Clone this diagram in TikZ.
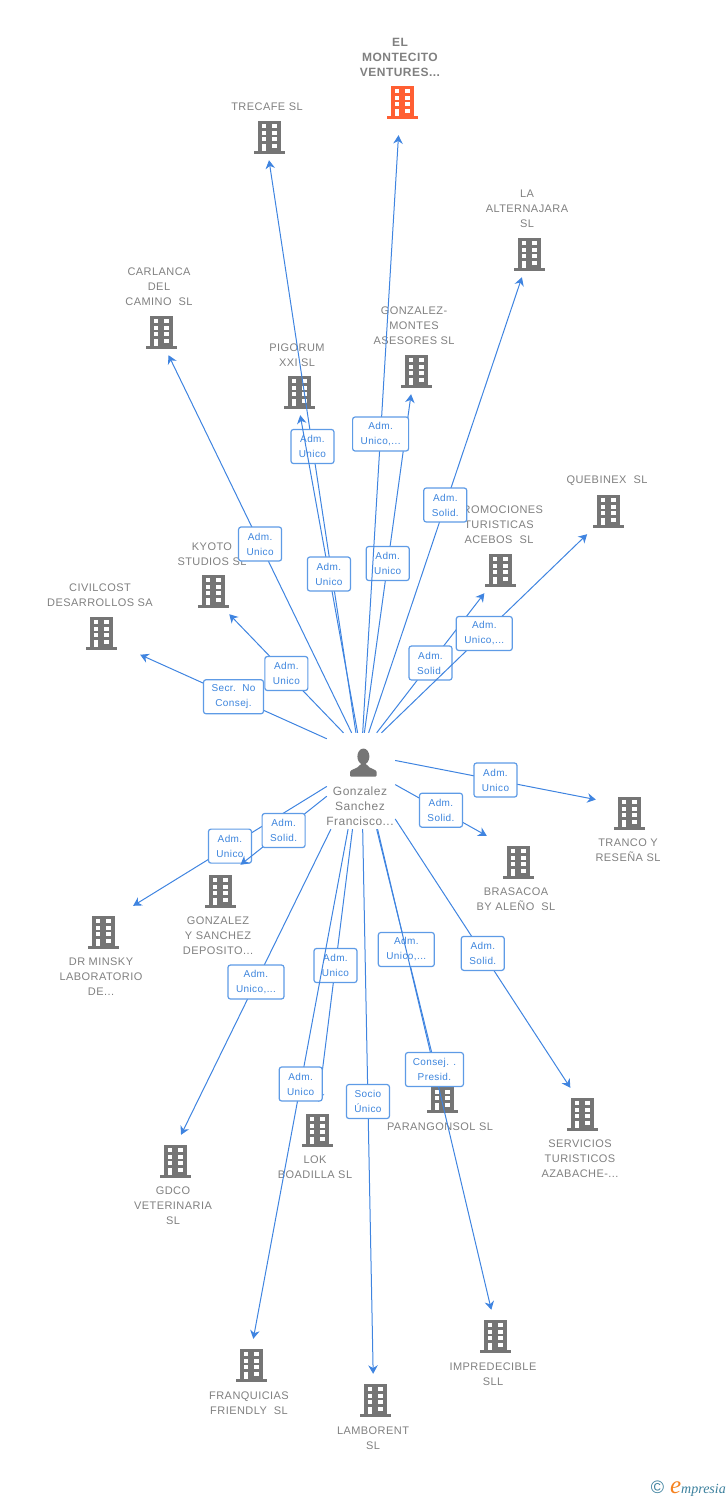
\documentclass[tikz,border=0pt]{standalone}
\usepackage{fontspec}
\setmainfont[LetterSpace=4]{Liberation Sans}
\newfontfamily\logofont{Liberation Serif}
\newfontfamily\copyfont{Liberation Sans}
\usetikzlibrary{arrows.meta}
\definecolor{bldggray}{HTML}{757575}
\definecolor{bldgorange}{HTML}{FF5F33}
\definecolor{namegray}{HTML}{808080}
\definecolor{linkblue}{HTML}{3F84E0}
\definecolor{tagblue}{HTML}{5E9BE6}
\definecolor{tagtext}{HTML}{3D85DD}
\definecolor{logoteal}{HTML}{3A7F9C}
\definecolor{logoorange}{HTML}{F58220}
\newcommand{\drawbldg}[1]{%
  \begin{scope}[shift={(path picture bounding box.center)}]
    \fill[#1] (-11.5,-16.5) rectangle (11.5,14);
    \fill[#1] (-15.5,14) rectangle (15.5,16.8);
    \foreach \wy in {-13,-6.5,0} {
      \fill[white] (-7.5,\wy) rectangle (-3.1,\wy+4.1);
      \fill[white] (3.1,\wy) rectangle (7.5,\wy+4.1);
    }
    \fill[white] (-7.5,6.7) rectangle (-3.1,14);
    \fill[white] (3.1,6.7) rectangle (7.5,11.4);
  \end{scope}}
\newcommand{\drawperson}{%
  \begin{scope}[shift={(path picture bounding box.center)}]
    \fill[bldggray] (2.4,-24.5) ellipse (6 and 8);
    \fill[bldggray, rounded corners=1pt] (-11,-4.5) -- (-11,-8) .. controls (-11,-12) and (-3,-12) .. (-0.5,-17)
      -- (5.5,-17) .. controls (8,-12) and (15.7,-12) .. (15.7,-8) -- (15.7,-4.5) -- cycle;
  \end{scope}}

\begin{document}
\begin{tikzpicture}[x=1pt, y=-1pt]
        % styles
        \tikzstyle{building}[bldggray] = [rectangle, inner sep=0pt, minimum width=66pt, minimum height=52pt, path picture={\drawbldg{#1}}]
        \tikzstyle{upbldg} = [building, minimum height=46pt]
        \tikzstyle{person} = [rectangle, inner sep=0pt, minimum width=68pt, minimum height=96pt, path picture={\drawperson}]
        \tikzstyle{firm} = [inner sep=0pt, yshift=-0.8pt, align=center, text=namegray, font=\fontsize{11}{15}\selectfont]
        \tikzstyle{tag} = [rectangle, rounded corners=2.5pt, inner sep=0pt, minimum width=43pt, minimum height=34pt, align=center, draw=tagblue, line width=1.2pt, fill=white, text=tagtext, font=\fontsize{10}{15}\selectfont]
        \tikzstyle{arrow} = [draw=linkblue, line width=1pt, -{Stealth[length=8.5pt, width=9.5pt]}]

        \useasboundingbox (0,0) rectangle (728,1500);

        % companies above the person
        \node (montecito) [building=bldgorange, minimum height=66pt] at (402,102) {};
        \node (montecitotxt) [firm, font=\fontsize{12}{15}\selectfont\bfseries] at (400,56.5) {EL\\MONTECITO\\VENTURES...};
        \node (trecafe) [upbldg] at (269,137) {};
        \node (trecafetxt) [firm] at (267,106) {TRECAFE SL};
        \node (alternajara) [upbldg] at (529,254) {};
        \node (alternajaratxt) [firm] at (527,208) {LA\\ALTERNAJARA\\SL};
        \node (carlanca) [upbldg] at (161,332) {};
        \node (carlancatxt) [firm] at (159,286) {CARLANCA\\DEL\\CAMINO~~SL};
        \node (gonzmon) [upbldg] at (416,371) {};
        \node (gonzmontxt) [firm] at (414,325) {GONZALEZ-\\MONTES\\ASESORES SL};
        \node (pigorum) [upbldg] at (299,392) {};
        \node (pigorumtxt) [firm] at (297,354) {PIGORUM\\XXI SL};
        \node (quebinex) [upbldg] at (608,511) {};
        \node (quebinextxt) [firm] at (607,480) {QUEBINEX~~SL};
        \node (acebos) [upbldg] at (500,570) {};
        \node (acebostxt) [firm] at (499,524) {PROMOCIONES\\TURISTICAS\\ACEBOS~~SL};
        \node (kyoto) [upbldg] at (213,591) {};
        \node (kyototxt) [firm] at (212,553) {KYOTO\\STUDIOS SL};
        \node (civilcost) [upbldg, minimum width=78pt] at (101,633) {};
        \node (civilcosttxt) [firm] at (100,594) {CIVILCOST\\DESARROLLOS SA};

        % the person
        \node (hub) [person] at (361,781) {};
        \node (hubtxt) [firm, font=\fontsize{12}{15}\selectfont] at (360,805) {Gonzalez\\Sanchez\\Francisco...};

        % companies below the person
        \node (tranco) [building] at (629,813) {};
        \node (trancotxt) [firm] at (628,849) {TRANCO Y\\RESEÑA SL};
        \node (brasacoa) [building] at (518,862) {};
        \node (brasacoatxt) [firm] at (516,898) {BRASACOA\\BY ALEÑO~~SL};
        \node (gonzsan) [building] at (220,891) {};
        \node (gonzsantxt) [firm] at (218,935) {GONZALEZ\\Y SANCHEZ\\DEPOSITO...};
        \node (minsky) [building] at (103,932) {};
        \node (minskytxt) [firm] at (101,976) {DR MINSKY\\LABORATORIO\\DE...};
        \node (servicios) [building] at (582,1114) {};
        \node (serviciostxt) [firm] at (580,1158) {SERVICIOS\\TURISTICOS\\AZABACHE-...};
        \node (parangon) [building] at (442,1096) {};
        \node (parangontxt) [firm] at (440,1126) {PARANGONSOL SL};
        \node (lok) [building, minimum height=56pt] at (317,1130) {};
        \node (loktxt) [firm] at (315,1166) {LOK\\BOADILLA SL};
        \node (gdco) [building] at (175,1161) {};
        \node (gdcotxt) [firm] at (173,1205) {GDCO\\VETERINARIA\\SL};
        \node (impredecible) [building] at (495,1336) {};
        \node (impredecibletxt) [firm] at (493,1373) {IMPREDECIBLE\\SLL};
        \node (franquicias) [building] at (251,1365) {};
        \node (franquiciastxt) [firm] at (249,1402) {FRANQUICIAS\\FRIENDLY~~SL};
        \node (lamborent) [building] at (375,1400) {};
        \node (lamborenttxt) [firm] at (373,1437) {LAMBORENT\\SL};

        % connectors going up
        \draw [arrow] (hub.129) -- node (tagcivilcost) [tag, minimum width=60pt] {Secr.~~No\\Consej.} (civilcost.-29.4);
        \draw [arrow] (hub.110.6) -- node (tagkyoto) [tag] {Adm.\\Unico} (kyoto.-55.7);
        \draw [arrow] (hub.101.8) -- node (tagcarlanca) [tag] {Adm.\\Unico} (carlanca.-72.3);
        \draw [arrow] (hub.96) -- node (tagtrecafe) [tag] {Adm.\\Unico} (trecafe.-90);
        \draw [arrow] (hub.94.8) -- node (tagpigorum) [tag] {Adm.\\Unico} (pigorum.-87.6);
        \draw [arrow] (hub.86.4) -- node (taggonzmon) [tag] {Adm.\\Unico} (gonzmon.-102.8);
        \draw [arrow] (hub.88.8) -- node (tagmontecito) [tag, minimum width=56pt] {Adm.\\Unico,...} (montecito.-96.9);
        \draw [arrow] (hub.81.7) -- node (tagalternajara) [tag] {Adm.\\Solid.} (alternajara.-107.7);
        \draw [arrow] (hub.72.6) -- node (tagacebos) [tag] {Adm.\\Solid.} (acebos.-124.3);
        \draw [arrow] (hub.67.4) -- node (tagquebinex) [tag, minimum width=56pt] {Adm.\\Unico,...} (quebinex.-132.3);

        % connectors going down
        \draw [arrow] (hub.31.7) -- node (tagtranco) [tag] {Adm.\\Unico} (tranco.158.5);
        \draw [arrow] (hub.-6.7) -- node (tagbrasacoa) [tag] {Adm.\\Solid.} (brasacoa.140.9);
        \draw [arrow] (hub.-48.2) -- node (tagservicios) [tag] {Adm.\\Solid.} (servicios.114.8);
        \draw [arrow] (hub.-72.6) -- node (tagparangon) [tag, minimum width=56pt] {Adm.\\Unico,...} (parangon.103.5);
        \draw [arrow] (hub.-71) -- node (tagimpredecible) [tag, minimum width=58pt] {Consej. .\\Presid.} (impredecible.98.7);
        \draw [arrow] (hub.-88.8) -- node (taglamborent) [tag] {Socio\\Único} (lamborent.94.6);
        \draw [arrow] (hub.-100) -- node (taglok) [tag] {Adm.\\Unico} (lok.87.9);
        \draw [arrow] (hub.-105.2) -- node (tagfranquicias) [tag] {Adm.\\Unico} (franquicias.85.4);
        \draw [arrow] (hub.-122.9) -- node (taggdco) [tag, minimum width=56pt] {Adm.\\Unico,...} (gdco.77);
        \draw [arrow] (hub.-171.6) -- node (tagminsky) [tag] {Adm.\\Unico} (minsky.41.9);
        \draw [arrow] (hub.-156) -- node (taggonzsan) [tag] {Adm.\\Solid.} (gonzsan.52.4);

        % logo in the corner
        \node (logo) [inner sep=0pt, anchor=east, text=logoteal, font=\logofont\itshape\fontsize{14}{14}\selectfont] at (726,1489) {{\copyfont\upshape\fontsize{18}{14}\selectfont ©}\hspace{6pt}{\color{logoorange}\fontsize{25}{14}\selectfont e}mpresia};
\end{tikzpicture}
\end{document}
